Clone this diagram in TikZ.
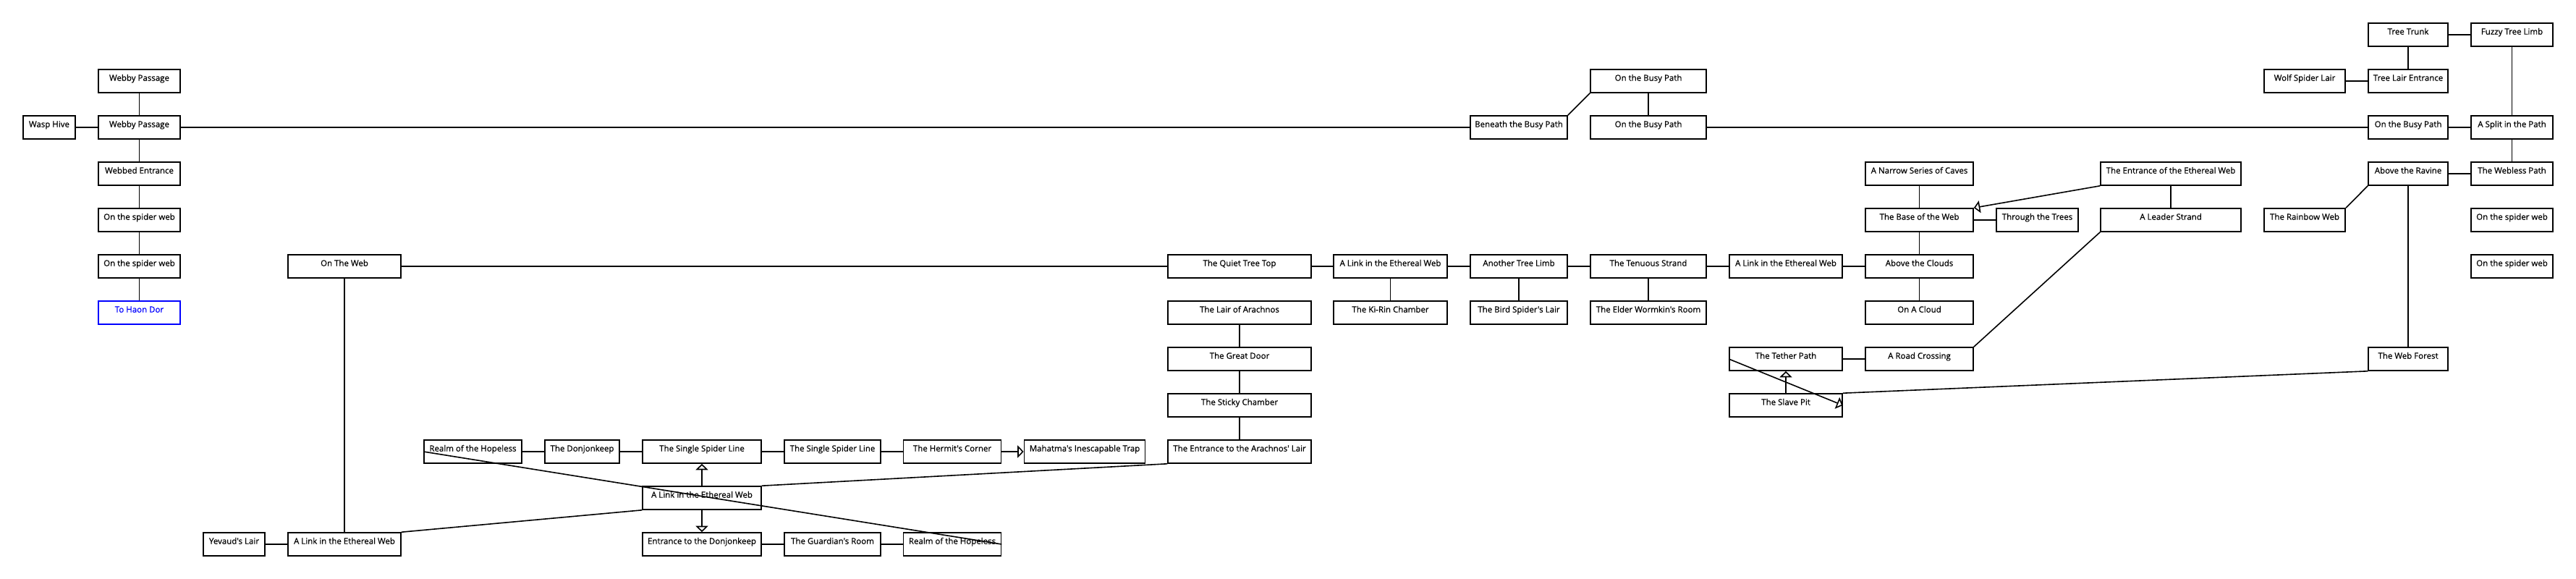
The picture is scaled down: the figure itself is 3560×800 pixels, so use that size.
\documentclass[tikz,border=0pt]{standalone}
\usepackage{fontspec}
\setmainfont{Open Sans}
\newfontfamily\roomfont{Open Sans}[FakeBold=0.6]
\usepackage{tikz}
\usetikzlibrary{arrows.meta}

\begin{document}
\begin{tikzpicture}[x=1pt, y=-1pt, line width=1.6pt,
	>={Triangle[open, length=8.5pt, width=17pt]},
	room/.style={draw, rectangle, minimum width=#1, inner xsep=1pt, inner ysep=0pt,
		text height=15.7pt, text depth=16.3pt,
		font=\roomfont\fontsize{11.5}{13}\selectfont}]
	
	\useasboundingbox (0,0) rectangle (3560,800);
	
	\node[room=110] (tt) at (3328,48) {Tree Trunk};
	
	\node[room=113] (ft) at (3471.5,48) {Fuzzy Tree Limb};
	
	\node[room=113] (wp) at (192.5,112) {Webby Passage};
	
	\node[room=160] (bp) at (2278,112) {On the Busy Path};
	
	\node[room=112.5] (wl) at (3185,112) {Wolf Spider Lair};
	
	\node[room=110] (te) at (3328,112) {Tree Lair Entrance};
	
	\node[room=72] (wh) at (68,176) {Wasp Hive};
	
	\node[room=113] (wp2) at (192.5,176) {Webby Passage};
	
	\node[room=134] (bb) at (2099,176) {Beneath the Busy Path};
	
	\node[room=160] (bp2) at (2278,176) {On the Busy Path};
	
	\node[room=110] (bp3) at (3328,176) {On the Busy Path};
	
	\node[room=113] (sp) at (3471.5,176) {A Split in the Path};
	
	\node[room=113] (we) at (192.5,240) {Webbed Entrance};
	
	\node[room=149] (nc) at (2652.5,240) {A Narrow Series of Caves};
	
	\node[room=194] (ee) at (3000,240) {The Entrance of the Ethereal Web};
	
	\node[room=110] (ar) at (3328,240) {Above the Ravine};
	
	\node[room=113] (np) at (3471.5,240) {The Webless Path};
	
	\node[room=113] (sw) at (192.5,304) {On the spider web};
	
	\node[room=149] (bw) at (2652.5,304) {The Base of the Web};
	
	\node[room=113] (tr) at (2815.5,304) {Through the Trees};
	
	\node[room=194] (ls) at (3000,304) {A Leader Strand};
	
	\node[room=112.5] (rw) at (3185,304) {The Rainbow Web};
	
	\node[room=113] (sw3) at (3471.5,304) {On the spider web};
	
	\node[room=113] (sw2) at (192.5,368) {On the spider web};
	
	\node[room=156] (ow) at (476,368) {On The Web};
	
	\node[room=198] (qt) at (1713,368) {The Quiet Tree Top};
	
	\node[room=157] (lk2) at (1921.5,368) {A Link in the Ethereal Web};
	
	\node[room=134] (al) at (2099,368) {Another Tree Limb};
	
	\node[room=160] (ts) at (2278,368) {The Tenuous Strand};
	
	\node[room=156] (lk3) at (2468,368) {A Link in the Ethereal Web};
	
	\node[room=149] (ac) at (2652.5,368) {Above the Clouds};
	
	\node[room=113] (sw4) at (3471.5,368) {On the spider web};
	
	\node[room=113, draw=blue, text=blue] (hd) at (192.5,432) {To Haon Dor};
	
	\node[room=198] (la) at (1713,432) {The Lair of Arachnos};
	
	\node[room=157] (kr) at (1921.5,432) {The Ki-Rin Chamber};
	
	\node[room=134] (bs) at (2099,432) {The Bird Spider's Lair};
	
	\node[room=160] (ew) at (2278,432) {The Elder Wormkin's Room};
	
	\node[room=149] (oc) at (2652.5,432) {On A Cloud};
	
	\node[room=198] (gd) at (1713,496) {The Great Door};
	
	\node[room=156] (tp) at (2468,496) {The Tether Path};
	
	\node[room=149] (rc) at (2652.5,496) {A Road Crossing};
	
	\node[room=110] (wf) at (3328,496) {The Web Forest};
	
	\node[room=198] (sc) at (1713,560) {The Sticky Chamber};
	
	\node[room=156] (pit) at (2468,560) {The Slave Pit};
	
	\node[room=135] (rh) at (653.5,624) {Realm of the Hopeless};
	
	\node[room=103] (dk) at (804.5,624) {The Donjonkeep};
	
	\node[room=164] (sl) at (970,624) {The Single Spider Line};
	
	\node[room=133] (sl2) at (1150.5,624) {The Single Spider Line};
	
	\node[room=135] (hc) at (1316,624) {The Hermit's Corner};
	
	\node[room=167] (mt) at (1499,624) {Mahatma's Inescapable Trap};
	
	\node[room=198] (ea) at (1713,624) {The Entrance to the Arachnos' Lair};
	
	\node[room=164] (lk) at (970,688) {A Link in the Ethereal Web};
	
	\node[room=85] (yl) at (323.5,752) {Yevaud's Lair};
	
	\node[room=156] (lk1) at (476,752) {A Link in the Ethereal Web};
	
	\node[room=164] (ed) at (970,752) {Entrance to the Donjonkeep};
	
	\node[room=133] (gr) at (1150.5,752) {The Guardian's Room};
	
	\node[room=135] (rh2) at (1316,752) {Realm of the Hopeless};
	
	\draw (wp) -- (wp2);
	\draw (wh) -- (wp2);
	\draw (wp2) -- (bb);
	\draw (wp2) -- (we);
	\draw (we) -- (sw);
	\draw (sw) -- (sw2);
	\draw (sw2) -- (hd);
	\draw (bb.north east) -- (bp.south west);
	\draw (bp) -- (bp2);
	\draw (bp2) -- (bp3);
	\draw (bp3) -- (sp);
	\draw (tt) -- (ft);
	\draw (tt) -- (te);
	\draw (wl) -- (te);
	\draw (ft) -- (sp);
	\draw (sp) -- (np);
	\draw (ar) -- (np);
	\draw (ar.south west) -- (rw.north east);
	\draw (ar) -- (wf);
	\draw (wf.south west) -- (pit.north east);
	\draw (ee) -- (ls);
	\draw[->] (ee.south west) -- (bw.north east);
	\draw (ls.south west) -- (rc.north east);
	\draw (nc) -- (bw);
	\draw (bw) -- (tr);
	\draw (bw) -- (ac);
	\draw (ac) -- (oc);
	\draw (tp) -- (rc);
	\draw[->] (pit) -- (tp);
	\draw[->] (tp.west) -- (pit.east);
	\draw (ow) -- (qt);
	\draw (qt) -- (lk2);
	\draw (lk2) -- (al);
	\draw (al) -- (ts);
	\draw (ts) -- (lk3);
	\draw (lk3) -- (ac);
	\draw (lk2) -- (kr);
	\draw (al) -- (bs);
	\draw (ts) -- (ew);
	\draw (la) -- (gd);
	\draw (gd) -- (sc);
	\draw (sc) -- (ea);
	\draw (ow) -- (lk1);
	\draw (yl) -- (lk1);
	\draw (lk1.north east) -- (lk.south west);
	\draw (lk.north east) -- (ea.south west);
	\draw (rh.west) -- (rh2.east);
	\draw[->] (lk) -- (sl);
	\draw[->] (lk) -- (ed);
	\draw (rh) -- (dk);
	\draw (dk) -- (sl);
	\draw (sl) -- (sl2);
	\draw (sl2) -- (hc);
	\draw[->] (hc) -- (mt);
	\draw (ed) -- (gr);
	\draw (gr) -- (rh2);
	
\end{tikzpicture}
\end{document}
